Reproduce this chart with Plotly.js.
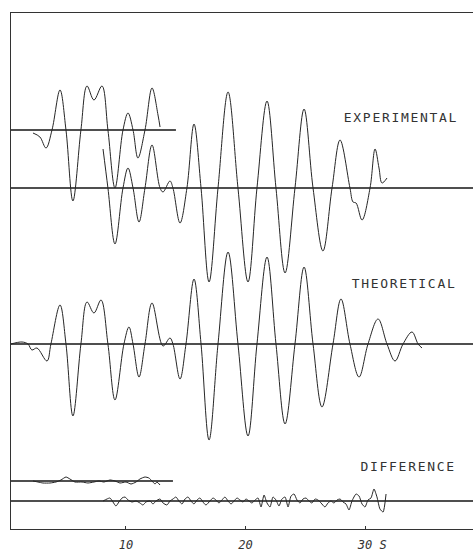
<!DOCTYPE html>
<html>
<head>
<meta charset="utf-8">
<script src="https://cdn.plot.ly/plotly-3.0.1.min.js"></script>
<style>
  html, body { margin: 0; padding: 0; background: #fff; overflow: hidden; }
  #chart { width: 480px; height: 551px; }
</style>
</head>
<body>
<div id="chart"></div>
<script>
// ---- Data (time in seconds, amplitude in plot units relative to each trace's baseline) ----

// Theoretical seismogram
const theoT = [0.38,1.30,1.80,2.13,2.55,3.39,3.72,4.48,4.98,5.56,6.23,6.74,7.32,7.91,8.49,9.08,9.83,10.25,10.59,11.09,11.59,12.18,13.10,13.68,13.93,14.52,15.02,15.69,16.28,16.95,17.70,18.54,19.37,20.21,20.96,21.80,22.55,23.31,24.14,24.90,25.65,26.40,27.32,27.99,28.74,29.50,30.25,31.09,31.84,32.51,33.18,33.93,34.44,34.77];
const theoA = [0,2,0,-6,-4,-17,0,39,0,-72,0,42,31,44,0,-56,0,17,0,-33,0,41,-2,6,0,-35,0,65,0,-96,0,92,0,-92,0,87,0,-80,0,77,0,-63,0,45,0,-33,0,25,0,-17,0,12,0,-4];

// Experimental record, first segment (upper)
const expAT = [2.22,2.80,3.31,3.81,4.48,4.98,5.56,6.23,6.74,7.32,7.99,8.49,9.08,9.75,10.17,10.59,11.00,11.59,12.18,12.68,12.85];
const expAA = [-3,-7,-18,0,40,0,-71,0,44,30,44,0,-58,0,17,0,-28,0,42,15,3];

// Experimental record, second segment (lower)
const expBT = [8.08,8.49,9.08,9.75,10.17,10.59,11.09,11.59,12.18,12.85,13.10,13.68,13.93,14.52,15.10,15.69,16.28,16.95,17.70,18.54,19.37,20.21,20.96,21.80,22.55,23.31,24.14,24.90,25.65,26.48,27.24,27.91,28.74,29.00,29.25,29.75,30.42,30.84,31.17,31.42,31.84];
const expBA = [39,0,-56,0,20,0,-34,0,43,0,-4,7,0,-35,0,64,0,-94,0,96,0,-94,0,87,0,-85,0,79,0,-63,0,48,0,-14,-15,-32,0,39,20,5,10];

// Difference, first segment (upper)
const diffAT = [2.22,2.64,3.05,3.64,4.14,4.56,4.98,5.31,5.73,6.32,6.82,7.32,7.74,8.16,8.66,9.08,9.50,10.00,10.42,10.84,11.17,11.59,11.92,12.18,12.43,12.59,12.85];
const diffAA = [0,-1,-2,-2,-1,1,4,2,-1,-1,-2,-1,0,-1,1,0,-2,-1,-3,-1,2,4,3,0,-3,-1,-4];

// Difference, second segment (lower)
const diffBT = [8.08,8.41,8.66,8.91,9.16,9.41,9.67,9.92,10.17,10.50,10.84,11.17,11.42,11.67,12.01,12.26,12.51,12.85,13.10,13.43,13.68,13.93,14.18,14.43,14.69,14.94,15.19,15.44,15.69,15.94,16.19,16.44,16.69,17.03,17.28,17.53,17.78,18.03,18.28,18.54,18.79,19.04,19.29,19.54,19.79,20.04,20.29,20.54,20.80,21.05,21.30,21.55,21.80,22.05,22.30,22.55,22.80,23.05,23.31,23.56,23.81,24.06,24.31,24.56,24.81,25.06,25.31,25.56,25.82,26.07,26.32,26.65,26.90,27.15,27.40,27.66,27.91,28.16,28.41,28.66,28.91,29.25,29.50,29.75,30.00,30.25,30.50,30.75,31.00,31.25,31.51,31.76];
const diffBA = [0,2,3,-1,-5,-1,3,4,1,-1,0,-2,-4,-1,0,-3,0,2,-2,-4,0,2,4,0,-3,2,4,0,-3,1,3,-1,-4,0,3,1,-2,1,4,0,-3,0,3,1,-1,2,0,-2,1,3,-6,6,-2,-6,4,1,-5,2,4,-6,5,7,1,-2,2,3,0,-2,2,1,-2,-6,-2,0,-2,1,2,-1,-3,-9,0,7,5,-3,-6,1,3,12,4,-8,-11,7];

// Axis ticks and labels
const tickValues = [10, 20, 30];
const tickLabels = ['10', '20', '\u00a0\u00a030\u00a0S'];
const traceLabels = ['EXPERIMENTAL', 'THEORETICAL', 'DIFFERENCE'];

// ---- Layout constants ----
const X_MIN = 0.38, X_MAX = 39.62;
const OFF = { expA: 399, expB: 341, theo: 185, diffA: 48, diffB: 28 };
const BASE_END = { expA: 14.18, diffA: 13.93 };

const waveLine = { color: '#262626', width: 1, shape: 'spline', smoothing: 1 };
const diffLine = { color: '#262626', width: 1, shape: 'spline', smoothing: 0.6 };
const baseLine = { color: '#151515', width: 1.6 };

function wave(t, a, off, line) {
  return { x: t, y: a.map(v => v + off), mode: 'lines', line: line || waveLine,
           hoverinfo: 'skip', showlegend: false };
}
function base(x0, x1, off) {
  return { x: [x0, x1], y: [off, off], mode: 'lines', line: baseLine,
           hoverinfo: 'skip', showlegend: false };
}

const traces = [
  base(X_MIN, BASE_END.expA, OFF.expA),
  base(X_MIN, X_MAX, OFF.expB),
  base(X_MIN, X_MAX, OFF.theo),
  base(X_MIN, BASE_END.diffA, OFF.diffA),
  base(X_MIN, X_MAX, OFF.diffB),
  wave(expAT, expAA, OFF.expA),
  wave(expBT, expBA, OFF.expB),
  wave(theoT, theoA, OFF.theo),
  wave(diffAT, diffAA, OFF.diffA, diffLine),
  wave(diffBT, diffBA, OFF.diffB, diffLine)
];

const labelFont = { family: 'DejaVu Sans Mono', size: 13, color: '#333' };
const annotations = [
  { x: 33.0, y: 412, text: traceLabels[0] },
  { x: 33.3, y: 246, text: traceLabels[1] },
  { x: 33.6, y: 63, text: traceLabels[2] }
].map(a => Object.assign({ xref: 'x', yref: 'y', showarrow: false, xanchor: 'center',
                           yanchor: 'middle', font: labelFont }, a));

const layout = {
  width: 480, height: 551,
  margin: { l: 11, r: 0, t: 13, b: 22, pad: 0 },
  paper_bgcolor: '#fff', plot_bgcolor: '#fff',
  showlegend: false,
  xaxis: {
    range: [X_MIN, X_MAX], showline: true, mirror: true, linecolor: '#333', linewidth: 1,
    showgrid: false, zeroline: false, ticks: 'inside', ticklen: 3, tickcolor: '#333',
    tickvals: tickValues, ticktext: tickLabels, ticklabelstandoff: 5,
    tickfont: { family: 'DejaVu Sans Mono', size: 12, color: '#333', style: 'italic' },
    fixedrange: true
  },
  yaxis: {
    range: [0, 516], showline: true, mirror: false, linecolor: '#333', linewidth: 1,
    showgrid: false, zeroline: false, showticklabels: false, ticks: '', fixedrange: true
  },
  annotations: annotations
};

Plotly.newPlot('chart', traces, layout, { staticPlot: true, displayModeBar: false }).then(() => {
  document.querySelectorAll('.annotation-text').forEach(e => { e.style.letterSpacing = '1.7px'; });
});
</script>
</body>
</html>
